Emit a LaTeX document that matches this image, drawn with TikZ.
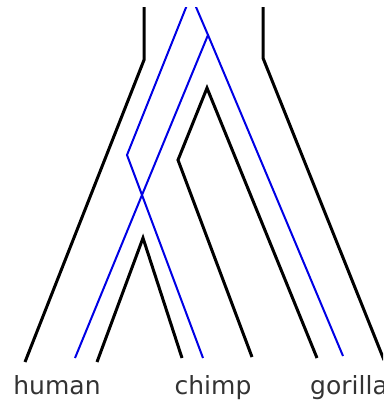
\documentclass[tikz,border=0pt]{standalone}
\usepackage{fontspec}
\setmainfont{DejaVu Sans}
\begin{document}
\begin{tikzpicture}[x=1pt,y=-1pt,
  species/.style={line width=3pt,black,line join=miter},
  gene/.style={line width=2pt,blue!90!black,line join=miter},
  taxon/.style={font=\fontsize{25}{25}\selectfont,text=black!80,inner sep=0pt,anchor=base}]
\useasboundingbox (0,0) rectangle (383,403);
\begin{scope}
\clip (0,8) rectangle (383,403);
% named points
\coordinate (hTop) at (144,0);
\coordinate (hKnee) at (144,60);
\coordinate (hEnd) at (25,362);
\coordinate (gTop) at (263,0);
\coordinate (gKnee) at (263,58);
\coordinate (gEnd) at (384,360);
\coordinate (sApex) at (143,238);
\coordinate (sL) at (97,362);
\coordinate (sR) at (182,358);
\coordinate (iApex) at (207,88);
\coordinate (iKink) at (178,160);
\coordinate (iL) at (252,357);
\coordinate (iR) at (317,358);
\coordinate (bTopL) at (189,0);
\coordinate (bKinkL) at (127,155);
\coordinate (bX) at (142,195);
\coordinate (bTopR) at (193,0);
\coordinate (bSplit) at (208,35);
\coordinate (bA) at (203,358);
\coordinate (bB) at (75,358);
\coordinate (bC) at (343,356);
% species tree outline
\draw[species] (hTop) -- (hKnee) -- (hEnd);
\draw[species] (gTop) -- (gKnee) -- (gEnd);
\draw[species] (sL) -- (sApex) -- (sR);
\draw[species] (iL) -- (iKink) -- (iApex) -- (iR);
% gene tree
\draw[gene] (bTopL) -- (bKinkL) -- (bX) -- (bA);
\draw[gene] (bTopR) -- (bSplit) -- (bX) -- (bB);
\draw[gene] (bSplit) -- (bC);
\end{scope}
\begin{scope}
\clip (0,0) rectangle (383,403);
\node[taxon] (human) at (57,394) {human};
\node[taxon] (chimp) at (213,394) {chimp};
\node[taxon,anchor=base west] (gorilla) at (310,394) {gorilla};
\end{scope}
\end{tikzpicture}
\end{document}
